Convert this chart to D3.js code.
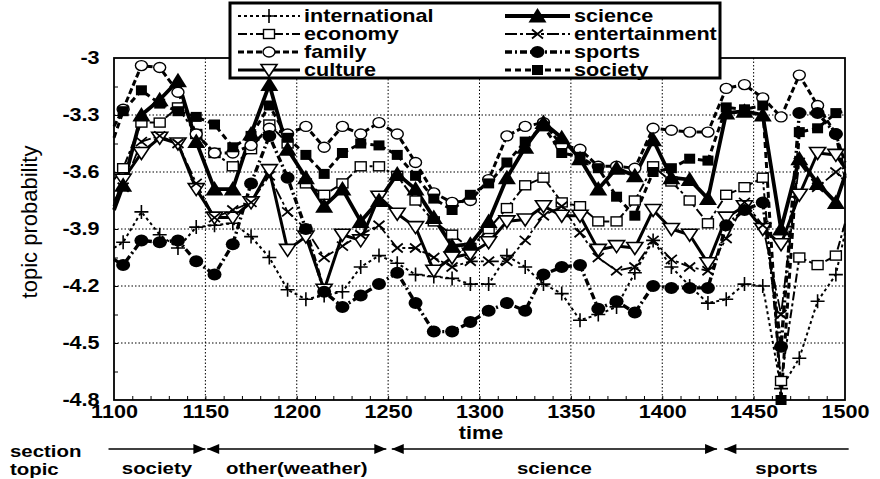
<!DOCTYPE html>
<html lang="en">
<head>
<meta charset="UTF-8">
<title>topic probability over time</title>
<script src="https://d3js.org/d3.v7.min.js"></script>
<style>
  body { margin: 0; background: #fff; }
  svg text { font-family: "Liberation Sans", Arial, sans-serif; fill: #000; font-weight: bold; }
</style>
</head>
<body>
<svg id="graph" width="880" height="479"></svg>
<script>
// time positions (1100 / 1500 are where the lines meet the frame)
const times = [1100, 1105, 1115, 1125, 1135, 1145, 1155, 1165, 1175, 1185, 1195,
  1205, 1215, 1225, 1235, 1245, 1255, 1265, 1275, 1285, 1295,
  1305, 1315, 1325, 1335, 1345, 1355, 1365, 1375, 1385, 1395,
  1405, 1415, 1425, 1435, 1445, 1455, 1465, 1475, 1485, 1495, 1500];

const international = [-4.00, -3.97, -3.81, -3.93, -4.00, -3.89, -3.88, -3.87, -3.94, -4.05, -4.22,
  -4.27, -4.25, -4.23, -4.10, -4.04, -4.08, -4.14, -4.15, -4.16, -4.19,
  -4.19, -4.04, -4.10, -4.19, -4.24, -4.38, -4.35, -4.31, -4.13, -3.96,
  -4.10, -4.20, -4.29, -4.27, -4.19, -4.20, -4.74, -4.58, -4.28, -4.14, -3.92];
const economy = [-3.64, -3.58, -3.34, -3.34, -3.26, -3.40, -3.50, -3.57, -3.48, -3.35, -3.45,
  -3.66, -3.72, -3.66, -3.57, -3.57, -3.62, -3.75, -3.86, -3.93, -4.00,
  -3.90, -3.79, -3.67, -3.63, -3.76, -3.78, -3.86, -3.86, -3.75, -3.57,
  -3.65, -3.75, -3.87, -3.72, -3.68, -3.63, -4.70, -4.05, -4.09, -4.04, -3.87];
const family = [-3.36, -3.27, -3.04, -3.05, -3.18, -3.40, -3.50, -3.50, -3.46, -3.37, -3.40,
  -3.36, -3.47, -3.36, -3.40, -3.34, -3.40, -3.55, -3.71, -3.76, -3.75,
  -3.64, -3.41, -3.36, -3.34, -3.46, -3.48, -3.57, -3.57, -3.58, -3.37,
  -3.38, -3.39, -3.39, -3.16, -3.14, -3.21, -3.31, -3.09, -3.25, -3.40, -3.55];
const culture = [-3.78, -3.64, -3.50, -3.42, -3.45, -3.69, -3.84, -3.84, -3.76, -3.59, -4.01,
  -3.94, -4.22, -3.93, -3.96, -3.73, -3.82, -3.89, -4.12, -4.05, -4.03,
  -3.97, -3.86, -3.85, -3.78, -3.83, -3.83, -4.01, -3.99, -4.00, -3.80,
  -3.90, -3.93, -4.08, -3.84, -3.78, -3.90, -3.98, -3.72, -3.50, -3.51, -3.58];
const science = [-3.80, -3.67, -3.30, -3.22, -3.12, -3.44, -3.69, -3.69, -3.40, -3.14, -3.48,
  -3.63, -3.78, -3.69, -3.86, -3.75, -3.61, -3.69, -3.84, -3.99, -3.98,
  -3.86, -3.63, -3.47, -3.34, -3.42, -3.53, -3.69, -3.58, -3.62, -3.43,
  -3.63, -3.64, -3.74, -3.29, -3.28, -3.30, -3.90, -3.53, -3.66, -3.76, -3.62];
const entertainment = [-3.75, -3.68, -3.44, -3.41, -3.45, -3.66, -3.84, -3.80, -3.76, -3.62, -3.81,
  -3.90, -4.05, -3.99, -3.93, -3.88, -4.00, -4.00, -4.05, -4.10, -4.07,
  -4.07, -4.07, -3.96, -3.83, -3.78, -3.92, -4.05, -4.12, -4.10, -3.96,
  -4.06, -4.10, -4.12, -3.95, -3.76, -3.88, -4.35, -3.55, -3.68, -3.60, -3.65];
const sports = [-4.06, -4.09, -3.96, -3.97, -3.96, -4.07, -4.14, -3.98, -3.66, -3.41, -3.63,
  -3.90, -4.23, -4.31, -4.25, -4.19, -4.13, -4.29, -4.44, -4.44, -4.39,
  -4.33, -4.29, -4.33, -4.14, -4.10, -4.09, -4.32, -4.28, -4.34, -4.20,
  -4.21, -4.21, -4.21, -3.88, -3.80, -3.76, -4.52, -3.29, -3.29, -3.40, -3.62];
const society = [-3.42, -3.28, -3.17, -3.24, -3.28, -3.31, -3.35, -3.47, -3.41, -3.25, -3.42,
  -3.51, -3.61, -3.50, -3.45, -3.46, -3.51, -3.62, -3.74, -3.80, -3.72,
  -3.66, -3.55, -3.44, -3.36, -3.50, -3.52, -3.58, -3.73, -3.83, -3.60,
  -3.58, -3.53, -3.54, -3.26, -3.27, -3.25, -4.80, -3.39, -3.37, -3.29, -3.28];

const xTicks = [1100, 1150, 1200, 1250, 1300, 1350, 1400, 1450, 1500];
const yTicks = [-3, -3.3, -3.6, -3.9, -4.2, -4.5, -4.8];

const sectionNames = ["society", "other(weather)", "science", "sports"];
const sectionStart = [1097, 1151, 1252, 1434];
const sectionEnd = [1150, 1249, 1430, 1502];

const svg = d3.select("#graph");
const SX = 1.2; // the scanned lettering is wide

const x = d3.scaleLinear().domain([1100, 1500]).range([114, 845]);
const y = d3.scaleLinear().domain([-4.8, -3]).range([400, 58]);

// series styling
const series = [
    { name: "international", values: international, dash: "3,3", width: 2, marker: "plus" },
    { name: "economy", values: economy, dash: "9,3,3,3", width: 2, marker: "square" },
    { name: "family", values: family, dash: "6,3", width: 3, marker: "circle" },
    { name: "culture", values: culture, dash: null, width: 3, marker: "triDown" },
    { name: "science", values: science, dash: null, width: 3.8, marker: "triUp" },
    { name: "entertainment", values: entertainment, dash: "12,3,3,3", width: 1.8, marker: "cross" },
    { name: "sports", values: sports, dash: "7,3,2,3", width: 3.4, marker: "dot" },
    { name: "society", values: society, dash: "6,4", width: 3, marker: "block" }
];

// grid
svg.append("g").selectAll("line")
    .data(xTicks.slice(1, -1))
    .join("line")
    .attr("x1", d => x(d)).attr("x2", d => x(d))
    .attr("y1", y(-3)).attr("y2", y(-4.8))
    .attr("stroke", "#000").attr("stroke-width", 1)
    .attr("stroke-dasharray", "1.5,2");
svg.append("g").selectAll("line")
    .data(yTicks.slice(1, -1))
    .join("line")
    .attr("x1", x(1100)).attr("x2", x(1500))
    .attr("y1", d => y(d)).attr("y2", d => y(d))
    .attr("stroke", "#000").attr("stroke-width", 1)
    .attr("stroke-dasharray", "1.5,2");

// minor inner ticks
const minorX = d3.range(1110, 1500, 10);
const minorY = d3.range(-3.15, -4.79, -0.15);
svg.append("g")
    .attr("transform", "translate(0," + y(-4.8) + ")")
    .call(d3.axisBottom(x).tickValues(minorX).tickSize(-4).tickFormat(""))
    .call(g => g.select(".domain").remove());
svg.append("g")
    .attr("transform", "translate(" + x(1100) + ",0)")
    .call(d3.axisLeft(y).tickValues(minorY).tickSize(-4).tickFormat(""))
    .call(g => g.select(".domain").remove());

// tick labels
svg.append("g")
    .attr("transform", "translate(0," + y(-4.8) + ")")
    .call(d3.axisBottom(x).tickValues(xTicks).tickSize(0).tickPadding(5).tickFormat(d => d))
    .call(g => g.select(".domain").remove())
    .selectAll("text")
    .attr("font-size", 18)
    .attr("transform", "scale(" + SX + ",1)");
svg.append("g")
    .attr("transform", "translate(" + x(1100) + ",0)")
    .call(d3.axisLeft(y).tickValues(yTicks).tickSize(0).tickPadding(12).tickFormat(d => d))
    .call(g => g.select(".domain").remove())
    .selectAll("text")
    .attr("font-size", 18)
    .attr("transform", "scale(" + SX + ",1)");

// frame
svg.append("rect")
    .attr("x", x(1100)).attr("y", y(-3))
    .attr("width", x(1500) - x(1100)).attr("height", y(-4.8) - y(-3))
    .attr("fill", "none").attr("stroke", "#000").attr("stroke-width", 1.8);

// marker drawing
function drawMarker(g, type, cx, cy) {
    const m = g.append("g").attr("transform", "translate(" + cx + "," + cy + ")");
    if (type === "plus") {
        m.append("path").attr("d", "M-7,0H7M0,-7V7").attr("stroke", "#000").attr("stroke-width", 1.6);
    } else if (type === "cross") {
        m.append("path").attr("d", "M-5.5,-4.5L5.5,4.5M-5.5,4.5L5.5,-4.5").attr("stroke", "#000").attr("stroke-width", 1.8);
    } else if (type === "square") {
        m.append("rect").attr("x", -5.5).attr("y", -4.5).attr("width", 11).attr("height", 9)
            .attr("fill", "#fff").attr("stroke", "#000").attr("stroke-width", 1.4);
    } else if (type === "circle") {
        m.append("ellipse").attr("rx", 6).attr("ry", 5)
            .attr("fill", "#fff").attr("stroke", "#000").attr("stroke-width", 1.4);
    } else if (type === "triDown") {
        m.append("path").attr("d", "M-8,-5.5L8,-5.5L0,6.5Z")
            .attr("fill", "#fff").attr("stroke", "#000").attr("stroke-width", 1.6);
    } else if (type === "triUp") {
        m.append("path").attr("d", "M-9,6.5L9,6.5L0,-8Z").attr("fill", "#000");
    } else if (type === "dot") {
        m.append("ellipse").attr("rx", 7).attr("ry", 6).attr("fill", "#000");
    } else if (type === "block") {
        m.append("rect").attr("x", -5.5).attr("y", -5).attr("width", 11).attr("height", 10).attr("fill", "#000");
    }
}

// lines and markers
const line = d3.line()
    .x((d, i) => x(times[i]))
    .y(d => y(d));

const plot = svg.append("g");
series.forEach(s => {
    plot.append("path")
        .datum(s.values)
        .attr("d", line)
        .attr("fill", "none")
        .attr("stroke", "#000")
        .attr("stroke-width", s.width)
        .attr("stroke-linejoin", "round")
        .attr("stroke-dasharray", s.dash);
});
series.forEach(s => {
    const mg = plot.append("g");
    s.values.forEach((v, i) => {
        if (times[i] > 1100 && times[i] < 1500) drawMarker(mg, s.marker, x(times[i]), y(v));
    });
});

// legend
const legend = svg.append("g");
legend.append("rect")
    .attr("x", 230).attr("y", 3).attr("width", 490).attr("height", 75)
    .attr("fill", "#fff").attr("stroke", "#000").attr("stroke-width", 3);
const rowY = [16, 34, 52, 70];
series.forEach((s, i) => {
    const col = i < 4 ? 0 : 1;
    const ry = rowY[i % 4];
    const x0 = col === 0 ? 238 : 505;
    const x1 = col === 0 ? 300 : 570;
    legend.append("line")
        .attr("x1", x0).attr("x2", x1).attr("y1", ry).attr("y2", ry)
        .attr("stroke", "#000").attr("stroke-width", s.width)
        .attr("stroke-dasharray", s.dash);
    drawMarker(legend, s.marker, (x0 + x1) / 2, ry);
    legend.append("text")
        .attr("transform", "translate(" + (x1 + 4) + "," + ry + ") scale(" + SX + ",1)")
        .attr("dy", "0.36em")
        .attr("font-size", 18)
        .text(s.name);
});

// axis titles
svg.append("text")
    .attr("transform", "translate(481,439) scale(" + SX + ",1)")
    .attr("text-anchor", "middle")
    .attr("font-size", 18)
    .text("time");
svg.append("text")
    .attr("transform", "translate(37,222) rotate(-90)")
    .attr("text-anchor", "middle")
    .attr("font-size", 22)
    .style("font-weight", "normal")
    .text("topic probability");

// section topic row
svg.append("text")
    .attr("transform", "translate(10,457) scale(" + SX + ",1)")
    .attr("font-size", 17)
    .text("section");
svg.append("text")
    .attr("transform", "translate(10,475) scale(" + SX + ",1)")
    .attr("font-size", 17)
    .text("topic");

const arrowY = 449;
const sections = svg.append("g");
sectionNames.forEach((name, i) => {
    const a = x(sectionStart[i]);
    const b = x(sectionEnd[i]);
    sections.append("line")
        .attr("x1", a).attr("x2", b).attr("y1", arrowY).attr("y2", arrowY)
        .attr("stroke", "#000").attr("stroke-width", 1.6);
    if (i > 0) {
        sections.append("path")
            .attr("d", "M" + a + "," + arrowY + "l12,-5v10Z").attr("fill", "#000");
    }
    if (i < sectionNames.length - 1) {
        sections.append("path")
            .attr("d", "M" + b + "," + arrowY + "l-12,-5v10Z").attr("fill", "#000");
    }
    sections.append("text")
        .attr("transform", "translate(" + ((a + b) / 2) + ",474) scale(" + SX + ",1)")
        .attr("text-anchor", "middle")
        .attr("font-size", 17)
        .text(name);
});
</script>
</body>
</html>
